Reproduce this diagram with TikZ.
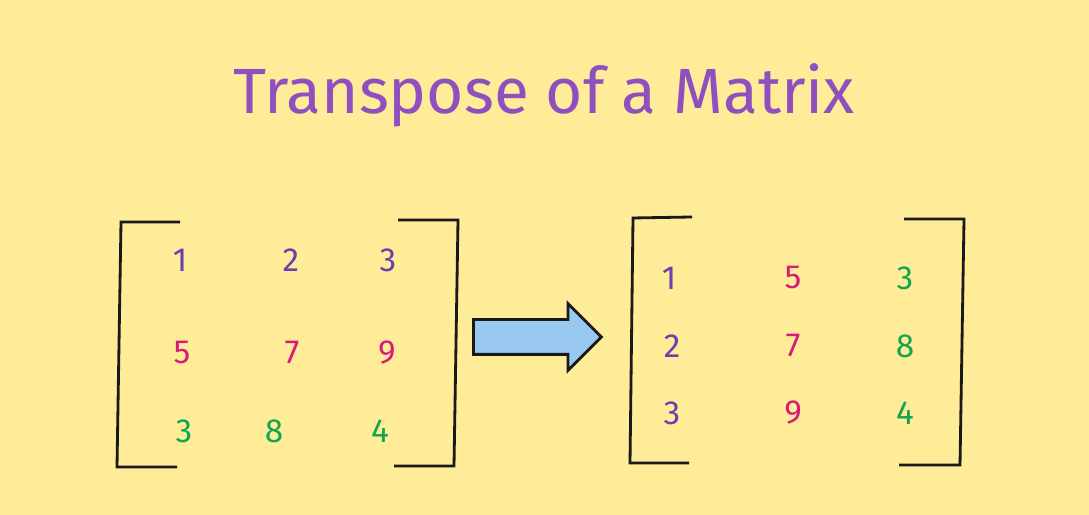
\documentclass[tikz,border=0pt]{standalone}
\usepackage{fontspec}
\setmainfont{Fira Sans}
\usepackage{tikz}
\usetikzlibrary{shapes,shapes.arrows}
\definecolor{paper}{HTML}{FFEC99}
\definecolor{titleviolet}{HTML}{8F4FBF}
\definecolor{rowviolet}{HTML}{6A3FAE}
\definecolor{rowpink}{HTML}{D81B78}
\definecolor{rowgreen}{HTML}{14A550}
\definecolor{arrowblue}{HTML}{99C9F0}
\tikzstyle{brak}=[draw=black!90,line width=0.8pt,line join=miter]
\tikzstyle{ent}=[font=\fontsize{9.5}{9.5}\selectfont,inner sep=0]
\tikzstyle{rA}=[ent,text=rowviolet]
\tikzstyle{rB}=[ent,text=rowpink]
\tikzstyle{rC}=[ent,text=rowgreen]

\begin{document}
\begin{tikzpicture}[x=1cm,y=1cm]
\fill[paper] (0,0) rectangle (10.89,5.15);
\path[use as bounding box] (0,0) rectangle (10.89,5.15);

\node[text=titleviolet,font=\fontsize{18.2}{18.2}\selectfont] (title) at (5.44,4.20) {Transpose of a Matrix};

% left matrix
\coordinate (Ltl) at (1.80,2.93);
\coordinate (Ltc) at (1.21,2.93);
\coordinate (Lbc) at (1.17,0.48);
\coordinate (Lbl) at (1.77,0.48);
\coordinate (Rtl) at (3.98,2.95);
\coordinate (Rtc) at (4.58,2.95);
\coordinate (Rbc) at (4.54,0.49);
\coordinate (Rbl) at (3.94,0.49);
\draw[brak] (Ltl) -- (Ltc) -- (Lbc) -- (Lbl);
\draw[brak] (Rtl) -- (Rtc) -- (Rbc) -- (Rbl);

\node[rA] (a11) at (1.80,2.55) {1};
\node[rA] (a12) at (2.91,2.55) {2};
\node[rA] (a13) at (3.88,2.55) {3};
\node[rB] (a21) at (1.82,1.62) {5};
\node[rB] (a22) at (2.92,1.62) {7};
\node[rB] (a23) at (3.87,1.62) {9};
\node[rC] (a31) at (1.84,0.84) {3};
\node[rC] (a32) at (2.74,0.84) {8};
\node[rC] (a33) at (3.80,0.84) {4};

% arrow
\node[single arrow,draw=black!90,line width=0.8pt,fill=arrowblue,inner sep=0,
  minimum height=1.28cm,single arrow head extend=0.16cm,
  single arrow tip angle=90,text height=0.32cm,text depth=0pt,anchor=west] (arr) at (4.72,1.78) {};

% right matrix
\coordinate (Mtl) at (6.92,2.98);
\coordinate (Mtc) at (6.33,2.97);
\coordinate (Mbc) at (6.30,0.52);
\coordinate (Mbl) at (6.89,0.52);
\coordinate (Ntl) at (9.04,2.96);
\coordinate (Ntc) at (9.64,2.96);
\coordinate (Nbc) at (9.60,0.50);
\coordinate (Nbl) at (8.99,0.50);
\draw[brak] (Mtl) -- (Mtc) -- (Mbc) -- (Mbl);
\draw[brak] (Ntl) -- (Ntc) -- (Nbc) -- (Nbl);

\node[rA] (t11) at (6.69,2.37) {1};
\node[rB] (t12) at (7.93,2.37) {5};
\node[rC] (t13) at (9.05,2.37) {3};
\node[rA] (t21) at (6.72,1.69) {2};
\node[rB] (t22) at (7.93,1.69) {7};
\node[rC] (t23) at (9.05,1.69) {8};
\node[rA] (t31) at (6.72,1.02) {3};
\node[rB] (t32) at (7.93,1.02) {9};
\node[rC] (t33) at (9.05,1.02) {4};

\end{tikzpicture}
\end{document}
